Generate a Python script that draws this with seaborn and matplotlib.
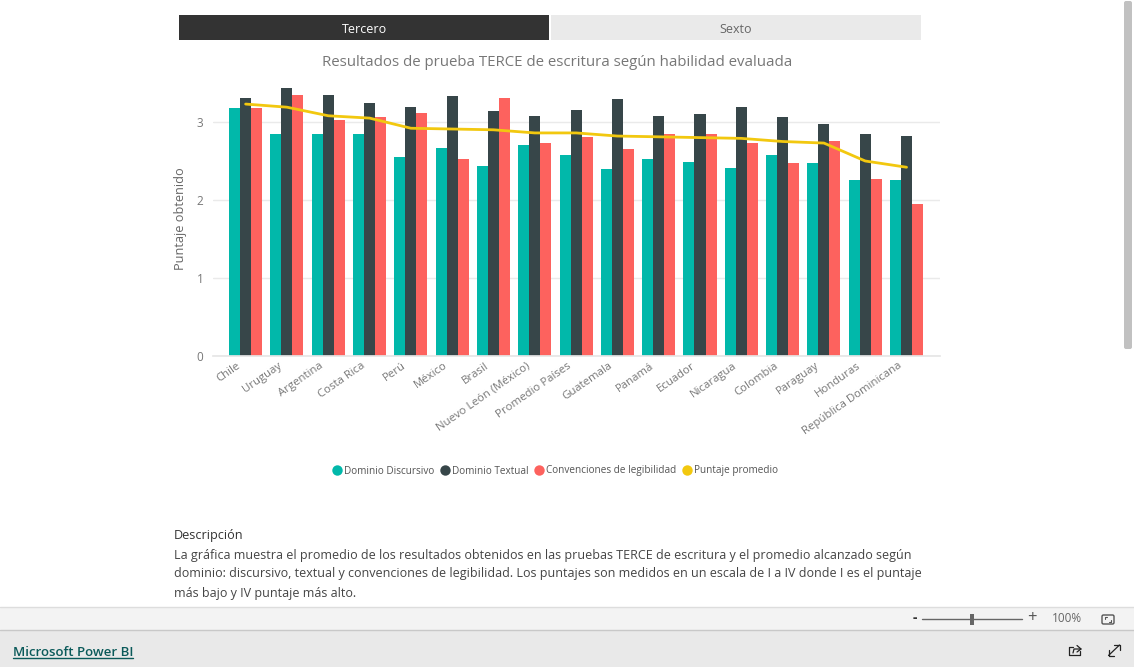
import matplotlib
matplotlib.use('Agg')
import matplotlib.pyplot as plt
from matplotlib.lines import Line2D
from matplotlib.patches import Rectangle, FancyBboxPatch
from matplotlib.transforms import ScaledTranslation
import pandas as pd
import seaborn as sns

paises = ['Chile', 'Uruguay', 'Argentina', 'Costa Rica', 'Perú', 'México', 'Brasil',
          'Nuevo León (México)', 'Promedio Países', 'Guatemala', 'Panamá', 'Ecuador',
          'Nicaragua', 'Colombia', 'Paraguay', 'Honduras', 'República Dominicana']
discursivo = [3.18, 2.85, 2.84, 2.85, 2.55, 2.67, 2.44, 2.71, 2.58, 2.40, 2.53, 2.49, 2.41, 2.58, 2.48, 2.26, 2.25]
textual = [3.31, 3.44, 3.34, 3.24, 3.19, 3.33, 3.14, 3.08, 3.16, 3.29, 3.08, 3.10, 3.19, 3.06, 2.97, 2.84, 2.82]
legibilidad = [3.18, 3.35, 3.02, 3.07, 3.11, 2.53, 3.31, 2.73, 2.81, 2.65, 2.85, 2.85, 2.73, 2.47, 2.75, 2.27, 1.95]
promedio = [3.23, 3.19, 3.08, 3.05, 2.92, 2.91, 2.90, 2.86, 2.86, 2.82, 2.81, 2.80, 2.79, 2.75, 2.73, 2.50, 2.42]

series = ['Dominio Discursivo', 'Dominio Textual', 'Convenciones de legibilidad']
colores = ['#01B8AA', '#374649', '#FD625E']
amarillo = '#F2C80F'

descripcion = [
    'La gráfica muestra el promedio de los resultados obtenidos en las pruebas TERCE de escritura y el promedio alcanzado según',
    'dominio: discursivo, textual y convenciones de legibilidad. Los puntajes son medidos en un escala de I a IV donde I es el puntaje',
    'más bajo y IV puntaje más alto.',
]

W, H = 1134, 667
sns.set_theme(style='white')
plt.rcParams['font.family'] = ['Open Sans', 'DejaVu Sans']

df = pd.DataFrame({'pais': paises, series[0]: discursivo, series[1]: textual, series[2]: legibilidad})
df = df.melt(id_vars='pais', var_name='dominio', value_name='puntaje')

fig = plt.figure(figsize=(W / 100, H / 100), dpi=100, facecolor='white')

# capa de fondo en pixeles para la interfaz de Power BI
ui = fig.add_axes([0, 0, 1, 1], zorder=0)
ui.set_xlim(0, W)
ui.set_ylim(H, 0)
ui.axis('off')
ui.add_patch(Rectangle((179, 15), 370, 25, color='#333333', lw=0))
ui.add_patch(Rectangle((551, 15), 370, 25, color='#EAEAEA', lw=0))
ui.text(364, 29.5, 'Tercero', color='white', fontsize=9, ha='center', va='center')
ui.text(736, 29.5, 'Sexto', color='#666666', fontsize=9, ha='center', va='center')
ui.text(557, 62, 'Resultados de prueba TERCE de escritura según habilidad evaluada',
        color='#777777', fontsize=10.8, ha='center', va='center')
ui.text(174, 536, 'Descripción', color='#333333', fontsize=9.1, va='center')
for i, linea in enumerate(descripcion):
    ui.text(174, 555 + i * 19, linea, color='#444444', fontsize=9.04, va='center')

ui.add_patch(Rectangle((0, 607), W, 23, facecolor='#F3F3F3', edgecolor='none'))
ui.add_patch(Rectangle((0, 630), W, 37, facecolor='#E9E9E9', edgecolor='none'))
ui.plot([0, W], [607, 607], color='#DDDDDD', lw=1)
ui.plot([0, W], [630, 630], color='#C8C8C8', lw=1)
ui.text(13, 652, 'Microsoft Power BI', color='#0B5A5A', fontsize=9.5, fontweight='semibold', va='center')
ui.plot([13, 133], [658, 658], color='#0B5A5A', lw=1)

# zoom y botones
ui.plot([922, 1022], [619, 619], color='#666666', lw=1)
ui.add_patch(Rectangle((970, 614), 4, 11, color='#666666', lw=0))
ui.text(915, 618, '-', color='#333333', fontsize=10, ha='center', va='center', fontweight='bold')
ui.text(1032, 618, '+', color='#555555', fontsize=12, ha='center', va='center')
ui.text(1067, 619, '100%', color='#666666', fontsize=8.5, ha='center', va='center')
ui.add_patch(FancyBboxPatch((1102, 615), 12, 9, boxstyle='round,pad=0,rounding_size=1.5',
                            facecolor='none', edgecolor='#555555', lw=1))
ui.plot([1105, 1105, 1107], [619, 617, 617], color='#555555', lw=0.8)
ui.plot([1109, 1111, 1111], [622, 622, 620], color='#555555', lw=0.8)

# expandir y compartir
ui.plot([1108.5, 1119.5], [655.5, 645], color='#222222', lw=0.9)
ui.plot([1114, 1120, 1120], [645, 645, 650], color='#222222', lw=0.9)
ui.plot([1108.5, 1108.5, 1114], [650, 655.5, 655.5], color='#222222', lw=0.9)
ui.plot([1073, 1069, 1069, 1080, 1080], [647, 647, 655, 655, 651], color='#222222', lw=0.9)
ui.plot([1073, 1074, 1081], [653, 649, 649], color='#222222', lw=0.9)
ui.plot([1077, 1081, 1077], [645.5, 649, 652], color='#222222', lw=0.9)

# barra de desplazamiento
ui.add_patch(FancyBboxPatch((1124, 1), 8, 348, boxstyle='round,pad=0,rounding_size=2',
                            facecolor='#C1C1C1', edgecolor='none'))

# grafico
ax = fig.add_axes([213 / W, 1 - 356 / H, (940 - 213) / W, (356 - 80) / H], zorder=1)
ax.patch.set_alpha(0)
sns.barplot(data=df, x='pais', y='puntaje', hue='dominio', palette=colores, order=paises,
            hue_order=series, width=0.8, saturation=1, errorbar=None, legend=False,
            linewidth=0, ax=ax)
sns.lineplot(x=paises, y=promedio, color=amarillo, linewidth=2, sort=False, ax=ax)

ax.set_xlim(-0.79, 16.81)
ax.set_ylim(0, 276 / 78)
ax.set_yticks([0, 1, 2, 3])
ax.grid(axis='y', color='#EAEAEA', lw=1)
ax.set_axisbelow(True)
sns.despine(ax=ax, left=True, top=True, right=True)
ax.spines['bottom'].set_color('#E6E6E6')
ax.tick_params(axis='both', length=0, colors='#777777', labelsize=8.5)
ax.tick_params(axis='y', pad=7)
ax.tick_params(axis='x', labelsize=8.2, pad=3)
desplaza = ScaledTranslation(-9 / 100, 0, fig.dpi_scale_trans)
for etiqueta in ax.get_xticklabels():
    etiqueta.set_rotation(35)
    etiqueta.set_ha('right')
    etiqueta.set_rotation_mode('anchor')
    etiqueta.set_transform(etiqueta.get_transform() + desplaza)
ax.set_xlabel('')
ax.set_ylabel('Puntaje obtenido', color='#666666', fontsize=9.2)
ax.yaxis.set_label_coords((187 - 213) / (940 - 213), 0.496)

handles = [Line2D([], [], ls='', marker='o', ms=7.5, mew=0, color=c) for c in colores + [amarillo]]
fig.legend(handles, series + ['Puntaje promedio'], loc='center', bbox_to_anchor=(554 / W, 1 - 471 / H),
           ncol=4, frameon=False, fontsize=7.2, labelcolor='#555555', handletextpad=0.0,
           columnspacing=0.35, handlelength=1.4)

fig.savefig('out.png', dpi=100)
